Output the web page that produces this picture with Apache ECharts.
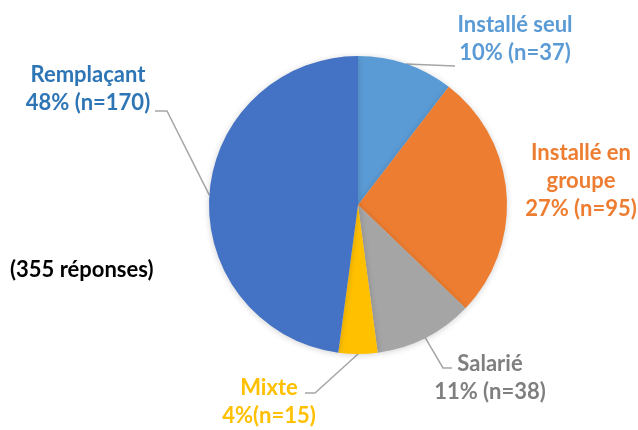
<!DOCTYPE html>
<html>
<head>
<meta charset="utf-8">
<script src="https://cdn.jsdelivr.net/npm/echarts@6/dist/echarts.min.js"></script>
<style>
  html, body { margin: 0; padding: 0; background: #fff; }
  #chart { width: 638px; height: 430px; }
</style>
</head>
<body>
<div id="chart"></div>
<script>
// données
const categories = ['Installé seul', 'Installé en groupe', 'Salarié', 'Mixte', 'Remplaçant'];
const labelNames = ['Installé seul', 'Installé en\ngroupe', 'Salarié', 'Mixte', 'Remplaçant'];
const counts = [37, 95, 38, 15, 170];
const totalText = '(355 réponses)';

const sliceColors = ['#5B9BD5', '#ED7D31', '#A5A5A5', '#FFC000', '#4472C4'];
const textColors = ['#5B9BD5', '#ED7D31', '#7F7F7F', '#FFC000', '#2E75B6'];

// position des étiquettes (centre du bloc de texte) et coudes des traits de rappel
const labelPos = [[515, 39], [581, 181], [490, 378], [269, 402], [88, 89]];
const lineBends = [[[455, 66]], null, [[443, 368], [452, 368]], [[315, 393], [305, 393]], [[167, 111], [155, 111]]];

const total = counts.reduce((a, b) => a + b, 0);

var chart = echarts.init(document.getElementById('chart'));

var data = categories.map(function (c, i) {
  return {
    name: c,
    value: counts[i],
    itemStyle: { color: sliceColors[i] },
    label: { color: textColors[i] },
    labelLine: { show: lineBends[i] !== null }
  };
});

var option = {
  animation: false,
  graphic: [{
    type: 'text',
    left: 10,
    top: 259,
    style: {
      text: totalText,
      fill: '#000',
      font: 'bold 22px Lato'
    }
  }],
  series: [{
    type: 'pie',
    center: [358, 205],
    radius: 149,
    startAngle: 90,
    clockwise: true,
    data: data,
    itemStyle: {
      shadowBlur: 6,
      shadowColor: 'rgba(0,0,0,0.18)',
      shadowOffsetY: 1
    },
    label: {
      show: true,
      position: 'outside',
      alignTo: 'none',
      overflow: 'none',
      bleedMargin: 0,
      fontFamily: 'Lato',
      fontWeight: 'bold',
      fontSize: 22,
      lineHeight: 28,
      align: 'center',
      formatter: function (p) {
        var i = p.dataIndex;
        var pct = Math.round(p.value / total * 100);
        var sep = i === 3 ? '' : ' ';
        return labelNames[i] + '\n' + pct + '%' + sep + '(n=' + p.value + ')';
      }
    },
    labelLine: {
      lineStyle: { color: '#A6A6A6', width: 1.5 }
    },
    labelLayout: function (params) {
      var i = params.dataIndex;
      var res = {
        x: labelPos[i][0],
        y: labelPos[i][1],
        align: 'center',
        verticalAlign: 'middle'
      };
      if (lineBends[i] && params.labelLinePoints) {
        res.labelLinePoints = [params.labelLinePoints[0]].concat(lineBends[i]);
      }
      return res;
    }
  }]
};

chart.setOption(option);
</script>
</body>
</html>
